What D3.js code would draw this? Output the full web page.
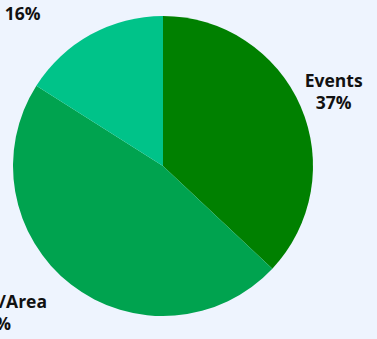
<!DOCTYPE html>
<html>
<head>
<meta charset="utf-8">
<script src="https://cdn.jsdelivr.net/npm/d3@7"></script>
<style>
  html, body { margin: 0; padding: 0; background: #eef4fe; }
  svg { display: block; }
  .label { font-family: "Open Sans", Lato, sans-serif; font-weight: 700; font-size: 17.5px; fill: #111; }
</style>
</head>
<body>
<div id="chart"></div>
<script>
// Set the dimensions of the chart
var width = 377,
height = 339,
cx = 163,
cy = 166,
radius = 150,
label_radius = 186,
line_height = 21.5;

// slice data
var categories = ["Events", "Region/Area", "Newsletter"];
var values = [37, 47, 16];
var colors = ["#008000", "#00a34f", "#00c389"];

var data = categories.map(function(c, i) { return {name: c, value: values[i]}; });

var svg = d3.select("#chart").append("svg")
.attr("width", width)
.attr("height", height);

var g = svg.append("g")
.attr("transform", "translate(" + cx + "," + cy + ")");

var pie = d3.pie()
.sort(null)
.value(function(d) { return d.value; });

var arc = d3.arc()
.innerRadius(0)
.outerRadius(radius);

var labelArc = d3.arc()
.innerRadius(label_radius)
.outerRadius(label_radius);

var color = d3.scaleOrdinal()
.domain(categories)
.range(colors);

var arcs = pie(data);

g.selectAll("path.slice")
.data(arcs)
.enter().append("path")
.attr("class", "slice")
.attr("d", arc)
.style("fill", function(d) { return color(d.data.name); });

// labels: two lines, name and percent
var labels = g.selectAll("g.label-g")
.data(arcs)
.enter().append("g")
.attr("class", "label-g");

labels.each(function(d) {
    var lg = d3.select(this);
    var text = lg.append("text")
    .attr("class", "label")
    .attr("text-anchor", "middle");
    text.append("tspan")
    .attr("x", 0)
    .attr("dy", -line_height / 2 + 6)
    .text(d.data.name);
    text.append("tspan")
    .attr("x", 0)
    .attr("dy", line_height)
    .text(d.data.value + "%");

    var c = labelArc.centroid(d);
    var mid = (d.startAngle + d.endAngle) / 2;
    var x = c[0];
    if (mid > Math.PI) {
        // left side: right edge of the block sits on the point
        var w = text.node().getBBox().width;
        x = c[0] - w / 2 - 2;
    }
    lg.attr("transform", "translate(" + x + "," + c[1] + ")");
});
</script>
</body>
</html>
